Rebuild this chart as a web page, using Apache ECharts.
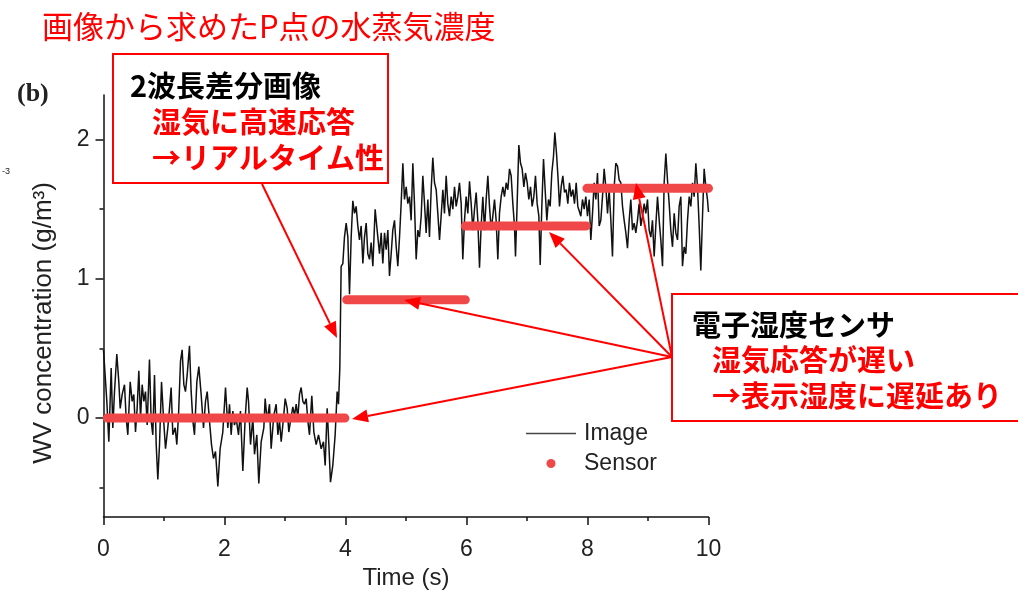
<!DOCTYPE html>
<html>
<head>
<meta charset="utf-8">
<style>
  html, body { margin: 0; padding: 0; background: #fff; }
  #chart { width: 1018px; height: 590px; }
</style>
<script src="https://cdn.jsdelivr.net/npm/echarts@6/dist/echarts.min.js"></script>
</head>
<body>
<div id="chart"></div>
<script>
// Water-vapour concentration at point P: image-derived trace vs. humidity sensor.

// Image trace: time (s)
const imageTime = [
  0.000,0.055,0.088,0.127,0.154,0.182,0.220,0.253,0.276,0.309,
  0.347,0.375,0.402,0.441,0.474,0.501,0.529,0.556,0.584,0.612,
  0.639,0.667,0.694,0.722,0.760,0.788,0.815,0.843,0.871,0.898,
  0.926,0.959,0.992,1.025,1.063,1.091,1.118,1.146,1.185,1.212,
  1.240,1.273,1.300,1.328,1.355,1.383,1.421,1.449,1.477,1.504,
  1.543,1.576,1.614,1.653,1.686,1.714,1.752,1.785,1.818,1.851,
  1.890,1.928,1.972,2.017,2.055,
  2.083,2.110,2.138,2.165,2.193,2.231,2.264,2.303,2.342,2.375,
  2.397,2.430,2.468,2.496,2.534,2.567,2.606,2.650,2.672,2.705,
  2.744,2.771,2.815,2.854,2.882,2.909,2.937,2.975,3.003,3.036,
  3.063,3.091,3.129,3.157,3.185,3.212,3.240,3.267,3.295,3.322,
  3.350,3.377,3.405,3.443,3.477,3.515,3.554,3.598,3.636,3.664,
  3.697,3.725,3.752,3.790,3.829,3.862,3.884,3.906,
  3.928,3.956,3.983,4.011,4.039,4.066,4.094,4.121,4.149,4.176,
  4.204,4.231,4.259,4.287,4.314,4.342,4.369,4.397,4.424,4.452,
  4.490,4.523,4.562,4.590,4.617,4.645,4.672,4.700,4.727,4.755,
  4.782,4.810,4.838,4.865,4.893,4.920,4.948,4.975,5.003,5.030,
  5.058,5.085,5.113,5.140,5.168,5.196,5.223,5.251,5.278,5.306,
  5.333,5.361,5.388,5.416,5.443,5.471,5.499,5.526,5.554,5.581,
  5.609,5.636,5.664,5.691,5.719,5.747,5.774,5.802,5.829,5.857,
  5.884,5.912,5.939,5.967,5.994,6.022,6.050,6.077,6.105,6.132,
  6.160,6.187,6.215,6.242,6.270,6.298,6.325,6.353,6.380,6.408,
  6.435,6.463,6.490,6.518,6.545,6.573,6.601,6.628,6.656,6.683,
  6.711,6.738,6.766,6.793,6.810,6.837,6.865,6.893,6.920,6.948,
  6.975,7.003,7.030,7.058,7.085,7.113,7.140,7.168,7.196,7.218,
  7.245,7.273,7.300,7.328,7.355,7.383,7.410,7.438,7.460,7.488,
  7.515,7.537,7.565,7.592,7.620,7.647,7.675,7.702,7.730,7.758,
  7.785,7.813,7.840,
  7.862,7.890,7.917,7.945,7.972,8.000,8.028,8.055,8.083,8.110,
  8.138,8.165,8.193,8.220,8.248,8.275,8.303,8.331,8.358,8.386,
  8.413,8.441,8.468,8.496,8.523,8.551,8.579,8.606,8.634,8.661,
  8.689,8.716,8.744,8.771,8.799,8.826,8.854,8.882,8.909,8.937,
  8.964,8.992,9.019,9.047,9.074,9.102,9.129,9.157,9.185,9.212,
  9.240,9.267,9.295,9.322,9.350,9.377,9.405,9.433,9.460,9.488,
  9.515,9.543,9.570,9.598,9.625,9.653,9.681,9.708,9.736,9.763,
  9.791,9.818,9.846,9.873,9.901,9.928,9.956,9.983,10.000
];

// Image trace: WV concentration (g/m3)
const imageConc = [
  0.49,0.12,-0.17,0.36,-0.07,0.19,0.46,0.26,0.07,0.17,
  0.24,0.00,-0.12,0.26,0.12,0.17,-0.10,0.07,0.34,0.00,
  0.24,0.12,0.19,-0.05,0.42,-0.02,-0.12,0.31,-0.19,-0.44,
  -0.19,0.26,0.00,-0.22,-0.07,0.07,0.22,-0.12,-0.07,-0.19,
  0.02,0.41,0.49,0.24,0.19,0.31,0.52,0.19,-0.02,-0.12,
  0.26,0.37,0.17,-0.07,0.12,0.19,-0.02,-0.19,-0.29,-0.24,
  -0.49,-0.22,-0.10,0.22,-0.07,
  0.10,-0.12,0.05,-0.05,0.00,-0.12,0.05,-0.38,0.00,0.22,
  0.12,-0.19,0.00,-0.26,-0.12,-0.47,-0.17,-0.07,0.14,-0.02,
  0.10,-0.22,0.02,0.10,-0.12,-0.02,-0.17,0.00,0.14,0.07,
  -0.10,-0.02,0.08,0.02,0.10,0.00,0.17,0.22,0.12,0.10,
  0.14,-0.02,-0.12,0.16,-0.10,-0.19,-0.12,-0.22,-0.17,-0.34,
  0.07,-0.19,-0.46,-0.34,-0.12,0.19,0.10,0.36,
  1.09,1.11,1.30,1.40,1.30,0.89,1.30,1.56,1.47,1.52,
  1.38,1.28,1.38,1.11,1.30,1.40,1.18,1.14,1.26,1.09,
  1.50,1.35,1.18,1.33,1.11,1.33,1.21,1.35,1.02,1.18,
  1.35,1.42,1.23,1.09,1.30,1.54,1.83,1.57,1.66,1.54,
  1.59,1.42,1.83,1.54,1.14,1.35,1.30,1.45,1.74,1.54,
  1.33,1.57,1.30,1.64,1.87,1.69,1.64,1.47,1.28,1.45,
  1.64,1.47,1.74,1.54,1.45,1.59,1.50,1.66,1.52,1.59,
  1.69,1.54,1.14,1.42,1.59,1.47,1.70,1.54,1.35,1.50,
  1.62,1.42,1.08,1.38,1.59,1.35,1.57,1.74,1.52,1.35,
  1.45,1.57,1.42,1.14,1.47,1.59,1.66,1.59,1.69,1.64,
  1.79,1.74,1.54,1.38,1.16,1.54,1.96,1.83,1.79,1.66,
  1.76,1.69,1.57,1.66,1.52,1.59,1.74,1.54,1.45,1.10,
  1.52,1.86,1.64,1.42,1.57,1.52,1.76,1.88,2.05,1.90,
  1.71,1.52,1.66,1.74,1.62,1.64,1.54,1.69,1.59,1.64,
  1.54,1.69,1.52,
  1.52,1.45,1.57,1.50,1.59,1.45,1.57,1.28,1.47,1.69,
  1.57,1.76,1.38,1.42,1.59,1.79,1.66,1.47,1.64,1.42,
  1.16,1.66,1.83,1.81,1.71,1.69,1.52,1.42,1.33,1.22,
  1.42,1.57,1.35,1.40,1.33,1.42,1.54,1.38,1.45,1.54,
  1.47,1.57,1.35,1.30,1.42,1.16,1.38,1.59,1.42,1.28,
  1.09,1.69,1.90,1.71,1.54,1.35,1.23,1.47,1.33,1.28,
  1.52,1.59,1.09,1.23,1.18,1.42,1.59,1.52,1.69,1.59,
  1.83,1.66,1.38,1.06,1.45,1.79,1.66,1.57,1.48
];

// Humidity sensor readings: constant level over each interval
const sensorStart = [0.06, 4.02, 5.98, 7.99];
const sensorEnd   = [3.99, 5.98, 7.98, 10.00];
const sensorLevel = [0.00, 0.85, 1.38, 1.65];

// Axis ticks
const xTicks = [0, 2, 4, 6, 8, 10];
const yMajorTicks = [0, 1, 2];
const yMinorTicks = [-0.5, 0.5, 1.5];

const imageData = imageTime.map((t, i) => [t, imageConc[i]]);
const sensorData = [];
sensorStart.forEach((s, i) => {
  sensorData.push([s, sensorLevel[i]], [sensorEnd[i], sensorLevel[i]]);
  if (i < sensorStart.length - 1) sensorData.push([sensorEnd[i], null]);
});

const LATIN = '"Liberation Sans", Arial, sans-serif';
const CJK = '"Noto Sans CJK JP", "Noto Sans", sans-serif';
const AXIS_COLOR = '#111';
const NOTE_RED = '#ff0000';
const SENSOR_RED = '#f04848';

function arrow(x0, y0, x1, y1) {
  const dx = x1 - x0, dy = y1 - y0, len = Math.hypot(dx, dy);
  const ux = dx / len, uy = dy / len;
  const headLen = 16, headHalf = 6.5;
  const bx = x1 - ux * headLen, by = y1 - uy * headLen;
  return [
    { type: 'line', z: 100, shape: { x1: x0, y1: y0, x2: bx, y2: by },
      style: { stroke: NOTE_RED, lineWidth: 2 } },
    { type: 'polygon', z: 100,
      shape: { points: [[x1, y1], [bx - uy * headHalf, by + ux * headHalf], [bx + uy * headHalf, by - ux * headHalf]] },
      style: { fill: NOTE_RED } }
  ];
}

function note(text, x, y, color) {
  return { type: 'text', z: 101, style: {
    text: text, x: x, y: y, fill: color, verticalAlign: 'middle',
    font: 'bold 29px ' + CJK } };
}

const graphics = [
  { type: 'text', style: { text: '画像から求めたP点の水蒸気濃度', x: 42, y: 26,
      verticalAlign: 'middle', fill: NOTE_RED, font: '31px ' + CJK } },
  { type: 'text', style: { text: '(b)', x: 17, y: 94, verticalAlign: 'middle',
      fill: '#222', font: 'bold 26px "Liberation Serif", "Times New Roman", serif' } },
  { type: 'text', style: { text: '-3', x: 2, y: 172, verticalAlign: 'middle',
      fill: '#222', font: '9px ' + LATIN } },

  // left note box
  { type: 'rect', z: 99, shape: { x: 113, y: 54, width: 275, height: 129 },
    style: { fill: '#fff', stroke: NOTE_RED, lineWidth: 2 } },
  note('2波長差分画像', 130, 86, '#000'),
  note('湿気に高速応答', 152, 122, NOTE_RED),
  note('→リアルタイム性', 152, 158, NOTE_RED),
  ...arrow(262, 184, 337, 338),

  // right note box
  { type: 'rect', z: 99, shape: { x: 672, y: 294, width: 360, height: 127 },
    style: { fill: '#fff', stroke: NOTE_RED, lineWidth: 2 } },
  note('電子湿度センサ', 692, 325, '#000'),
  note('湿気応答が遅い', 712, 360, NOTE_RED),
  note('→表示湿度に遅延あり', 712, 396, NOTE_RED),
  ...arrow(672, 357, 352, 419),
  ...arrow(672, 357, 404, 300),
  ...arrow(672, 357, 549, 232),
  ...arrow(672, 357, 636, 183)
];

const chart = echarts.init(document.getElementById('chart'), null, { renderer: 'canvas' });
chart.setOption({
  animation: false,
  backgroundColor: '#fff',
  grid: { left: 103.5, top: 95, width: 605, height: 422, containLabel: false, outerBoundsMode: 'none' },
  xAxis: {
    type: 'value', min: 0, max: 10, interval: 2,
    name: 'Time (s)', nameLocation: 'middle', nameGap: 49,
    nameTextStyle: { fontFamily: LATIN, fontSize: 24, color: '#222' },
    axisLine: { show: true, onZero: false, lineStyle: { color: AXIS_COLOR, width: 1.5 } },
    axisTick: { show: true, inside: false, length: 8, lineStyle: { color: AXIS_COLOR, width: 1.5 } },
    minorTick: { show: true, splitNumber: 2, length: 4, lineStyle: { color: AXIS_COLOR, width: 1.5 } },
    axisLabel: { fontFamily: LATIN, fontSize: 23, color: '#222', margin: 21,
      customValues: xTicks },
    splitLine: { show: false }, minorSplitLine: { show: false }
  },
  yAxis: [
    {
      type: 'value', min: -0.71, max: 2.32, position: 'left',
      name: 'WV concentration (g/m³)', nameLocation: 'middle', nameGap: 47, nameRotate: 90,
      nameTextStyle: { fontFamily: LATIN, fontSize: 26, color: '#222', padding: [0, 34, 0, 0] },
      axisLine: { show: true, onZero: false, lineStyle: { color: AXIS_COLOR, width: 1.5 } },
      axisTick: { show: true, inside: false, length: 8, customValues: yMajorTicks,
        lineStyle: { color: AXIS_COLOR, width: 1.5 } },
      axisLabel: { fontFamily: LATIN, fontSize: 23, color: '#222', margin: 14,
        customValues: yMajorTicks },
      splitLine: { show: false }
    },
    {
      type: 'value', min: -0.71, max: 2.32, position: 'left', offset: 0,
      axisLine: { show: false, onZero: false },
      axisTick: { show: true, inside: false, length: 4, customValues: yMinorTicks,
        lineStyle: { color: AXIS_COLOR, width: 1.5 } },
      axisLabel: { show: false },
      splitLine: { show: false }
    }
  ],
  legend: [
    {
      data: [{ name: 'Image', icon: 'rect', itemStyle: { color: '#444' } }],
      left: 526, top: 422, padding: 0, itemWidth: 50, itemHeight: 1.5,
      selectedMode: false,
      textStyle: { fontFamily: LATIN, fontSize: 23, color: '#222', padding: [0, 0, 0, 3] }
    },
    {
      data: [{ name: 'Sensor', icon: 'circle', itemStyle: { color: SENSOR_RED } }],
      left: 546.5, top: 452, padding: 0, itemWidth: 9, itemHeight: 9,
      selectedMode: false,
      textStyle: { fontFamily: LATIN, fontSize: 23, color: '#222', padding: [0, 0, 0, 23.5] }
    }
  ],
  series: [
    {
      name: 'Image', type: 'line', data: imageData, yAxisIndex: 0,
      showSymbol: false, symbol: 'none', z: 2,
      lineStyle: { color: '#111', width: 1.5 }, itemStyle: { color: '#111' }
    },
    {
      name: 'Sensor', type: 'line', data: sensorData, yAxisIndex: 0,
      showSymbol: false, symbol: 'none', connectNulls: false, z: 3,
      lineStyle: { color: SENSOR_RED, width: 9, cap: 'round' }, itemStyle: { color: SENSOR_RED }
    }
  ],
  graphic: graphics
});
</script>
</body>
</html>
